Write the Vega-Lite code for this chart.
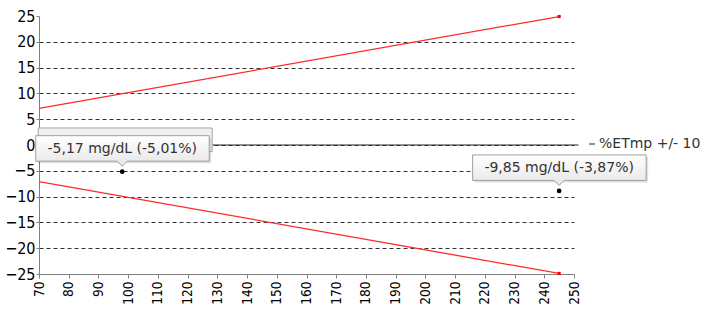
{
  "$schema": "https://vega.github.io/schema/vega-lite/v6.json",
  "width": 535,
  "height": 258,
  "autosize": {"type": "none"},
  "padding": {"left": 39, "top": 16, "right": 134, "bottom": 37},
  "background": "white",
  "config": {
    "view": {"stroke": null},
    "axis": {
      "labelFont": "Liberation Sans Narrow, DejaVu Sans Condensed, Liberation Sans",
      "labelColor": "#000",
      "domainColor": "#808080",
      "tickColor": "#808080",
      "labelOverlap": false,
      "labelBound": false,
      "title": null
    }
  },
  "datasets": {
    "bands": [
      {"x": 70, "y": 7.1, "band": "upper"},
      {"x": 245, "y": 24.9, "band": "upper"},
      {"x": 70, "y": -7.1, "band": "lower"},
      {"x": 245, "y": -24.9, "band": "lower"}
    ],
    "zero": [
      {"x": 70, "y": 0, "series": "%ETmp +/- 10"},
      {"x": 251.5, "y": 0, "series": "%ETmp +/- 10"}
    ],
    "pts": [
      {"x": 98, "y": -5.17, "label": "-5,17 mg/dL (-5,01%)"},
      {"x": 245, "y": -8.9, "label": "-9,85 mg/dL (-3,87%)"}
    ]
  },
  "layer": [
    {
      "data": {"name": "bands"},
      "mark": {"type": "line", "color": "#ff2a2a", "strokeWidth": 1.3},
      "encoding": {
        "x": {
          "field": "x", "type": "quantitative",
          "scale": {"domain": [70, 250], "nice": false, "zero": false},
          "axis": {
            "values": [70, 80, 90, 100, 110, 120, 130, 140, 150, 160, 170, 180, 190, 200, 210, 220, 230, 240, 250],
            "tickCount": 40,
            "labelAngle": -90,
            "labelFontSize": 13.5,
            "labelPadding": 3,
            "tickSize": 4,
            "grid": false
          }
        },
        "y": {
          "field": "y", "type": "quantitative",
          "scale": {"domain": [-25, 25], "nice": false},
          "axis": {
            "values": [-25, -20, -15, -10, -5, 0, 5, 10, 15, 20, 25],
            "tickCount": 40,
            "labelFontSize": 16,
            "labelPadding": 1,
            "tickSize": 3,
            "grid": true,
            "gridColor": "#333",
            "gridDash": [4, 3],
            "gridOpacity": {"condition": {"test": "abs(datum.value) == 25", "value": 0}, "value": 1}
          }
        },
        "detail": {"field": "band"}
      }
    },
    {
      "data": {"name": "bands"},
      "transform": [{"filter": "datum.x > 200"}],
      "mark": {"type": "square", "color": "#ff0000", "size": 10, "opacity": 1},
      "encoding": {
        "x": {"field": "x", "type": "quantitative"},
        "y": {"field": "y", "type": "quantitative"}
      }
    },
    {
      "data": {"name": "zero"},
      "mark": {"type": "line", "strokeWidth": 1, "clip": false},
      "encoding": {
        "x": {"field": "x", "type": "quantitative"},
        "y": {"field": "y", "type": "quantitative"},
        "color": {
          "field": "series", "type": "nominal",
          "scale": {"range": ["#222"]},
          "legend": {
            "title": null,
            "orient": "none",
            "legendX": 546,
            "legendY": 121,
            "symbolType": "stroke",
            "symbolSize": 36,
            "symbolStrokeWidth": 1,
            "labelFont": "DejaVu Sans",
            "labelFontSize": 14,
            "labelColor": "#333",
            "labelOffset": 0
          }
        }
      }
    },
    {
      "data": {"name": "pts"},
      "mark": {"type": "circle", "color": "#000", "size": 22, "opacity": 1},
      "encoding": {
        "x": {"field": "x", "type": "quantitative"},
        "y": {"field": "y", "type": "quantitative"}
      }
    },
    {
      "data": {"name": "pts"},
      "transform": [{"filter": "datum.x < 100"}],
      "mark": {
        "type": "point",
        "shape": "M-0.84,-0.437 L0.9,-0.437 L0.9,-0.2 L-0.84,-0.2 Z",
        "size": 40000,
        "filled": true,
        "fill": "#f0f0f0",
        "stroke": "#a8a8a8",
        "strokeWidth": 1,
        "opacity": 1
      },
      "encoding": {
        "x": {"field": "x", "type": "quantitative"},
        "y": {"field": "y", "type": "quantitative"}
      }
    },
    {
      "data": {"name": "pts"},
      "mark": {
        "type": "point",
        "shape": "M-0.845,-0.34 L0.89,-0.34 L0.89,-0.085 L-0.845,-0.085 Z",
        "size": 40000,
        "filled": true,
        "fill": "#000",
        "fillOpacity": 0.12,
        "strokeWidth": 0,
        "opacity": 1
      },
      "encoding": {
        "x": {"field": "x", "type": "quantitative"},
        "y": {"field": "y", "type": "quantitative"}
      }
    },
    {
      "data": {"name": "pts"},
      "mark": {
        "type": "point",
        "shape": "M-0.865,-0.36 L0.87,-0.36 L0.87,-0.105 L0.05,-0.105 L0,-0.055 L-0.05,-0.105 L-0.865,-0.105 Z",
        "size": 40000,
        "filled": true,
        "fill": {
          "gradient": "linear",
          "x1": 0, "y1": 0, "x2": 0, "y2": 1,
          "stops": [
            {"offset": 0, "color": "#ffffff"},
            {"offset": 1, "color": "#e6e6e6"}
          ]
        },
        "stroke": "#a0a0a0",
        "strokeWidth": 1,
        "opacity": 1
      },
      "encoding": {
        "x": {"field": "x", "type": "quantitative"},
        "y": {"field": "y", "type": "quantitative"}
      }
    },
    {
      "data": {"name": "pts"},
      "mark": {
        "type": "text",
        "font": "DejaVu Sans",
        "fontSize": 14,
        "color": "#333",
        "align": "center",
        "baseline": "middle",
        "dy": -23,
        "dx": 0
      },
      "encoding": {
        "x": {"field": "x", "type": "quantitative"},
        "y": {"field": "y", "type": "quantitative"},
        "text": {"field": "label"}
      }
    }
  ]
}
